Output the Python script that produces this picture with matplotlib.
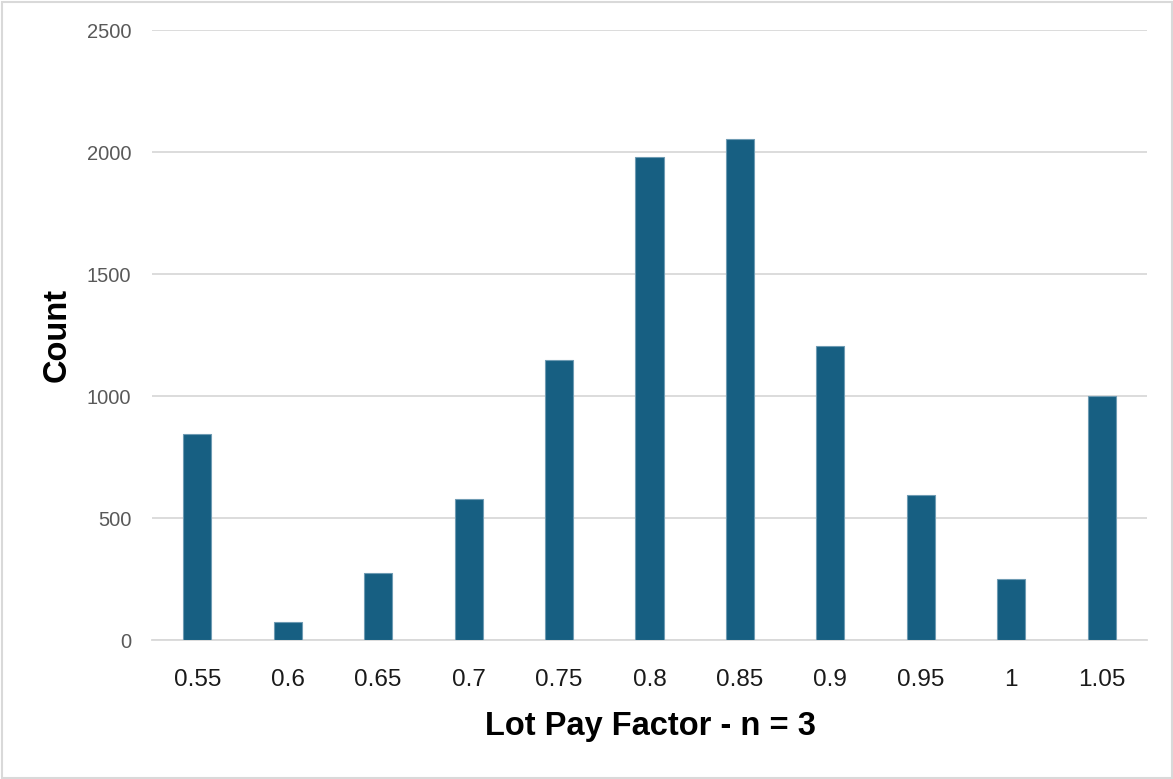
import matplotlib
matplotlib.use("Agg")
import matplotlib.pyplot as plt
from matplotlib.patches import Rectangle

# Histogram of lot pay factors (n = 3)
pay_factors = ["0.55", "0.6", "0.65", "0.7", "0.75", "0.8", "0.85", "0.9", "0.95", "1", "1.05"]
counts = [843, 72, 276, 577, 1148, 1980, 2052, 1204, 593, 252, 1000]
y_ticks = [0, 500, 1000, 1500, 2000, 2500]

W, H, DPI = 1173, 779, 100
fig = plt.figure(figsize=(W / DPI, H / DPI), dpi=DPI)
fig.patch.set_facecolor("white")

ax = fig.add_axes([152 / W, 1 - 640 / H, (1147 - 152) / W, (640 - 30) / H])

x = list(range(len(pay_factors)))
ax.bar(x, counts, width=0.31, color="#175F82", edgecolor="#6E9BB3",
       linewidth=0.8, zorder=3)

ax.set_xlim(-0.5, len(pay_factors) - 0.5)
ax.set_ylim(0, 2500)
ax.set_yticks(y_ticks)
ax.set_xticks(x)
ax.set_xticklabels(pay_factors)

ax.yaxis.grid(True, color="#D9D9D9", linewidth=1.3, zorder=0)
ax.set_axisbelow(True)
for side in ["top", "right", "left"]:
    ax.spines[side].set_visible(False)
ax.spines["bottom"].set_color("#D9D9D9")
ax.spines["bottom"].set_linewidth(1.3)

ax.tick_params(axis="both", length=0)
ax.tick_params(axis="y", pad=15, labelsize=14.5, labelcolor="#595959")
ax.tick_params(axis="x", pad=21, labelsize=17.5, labelcolor="#1A1A1A")
for lbl in ax.get_xticklabels() + ax.get_yticklabels():
    lbl.set_fontfamily("Liberation Sans")

fig.text(650 / W, 1 - 727 / H, "Lot Pay Factor - n = 3", ha="center", va="center",
         fontsize=23.5, fontweight="bold", family="Liberation Sans", color="black")
fig.text(57 / W, 1 - 335 / H, "Count", ha="center", va="center", rotation=90,
         fontsize=23.5, fontweight="bold", family="Liberation Sans", color="black")

# light frame around the chart area
fig.patches.append(Rectangle((1.5 / W, 1.5 / H), 1 - 3 / W, 1 - 3 / H,
                             transform=fig.transFigure, fill=False,
                             edgecolor="#D9D9D9", linewidth=1.5))

fig.savefig("out.png", dpi=DPI, facecolor="white")
